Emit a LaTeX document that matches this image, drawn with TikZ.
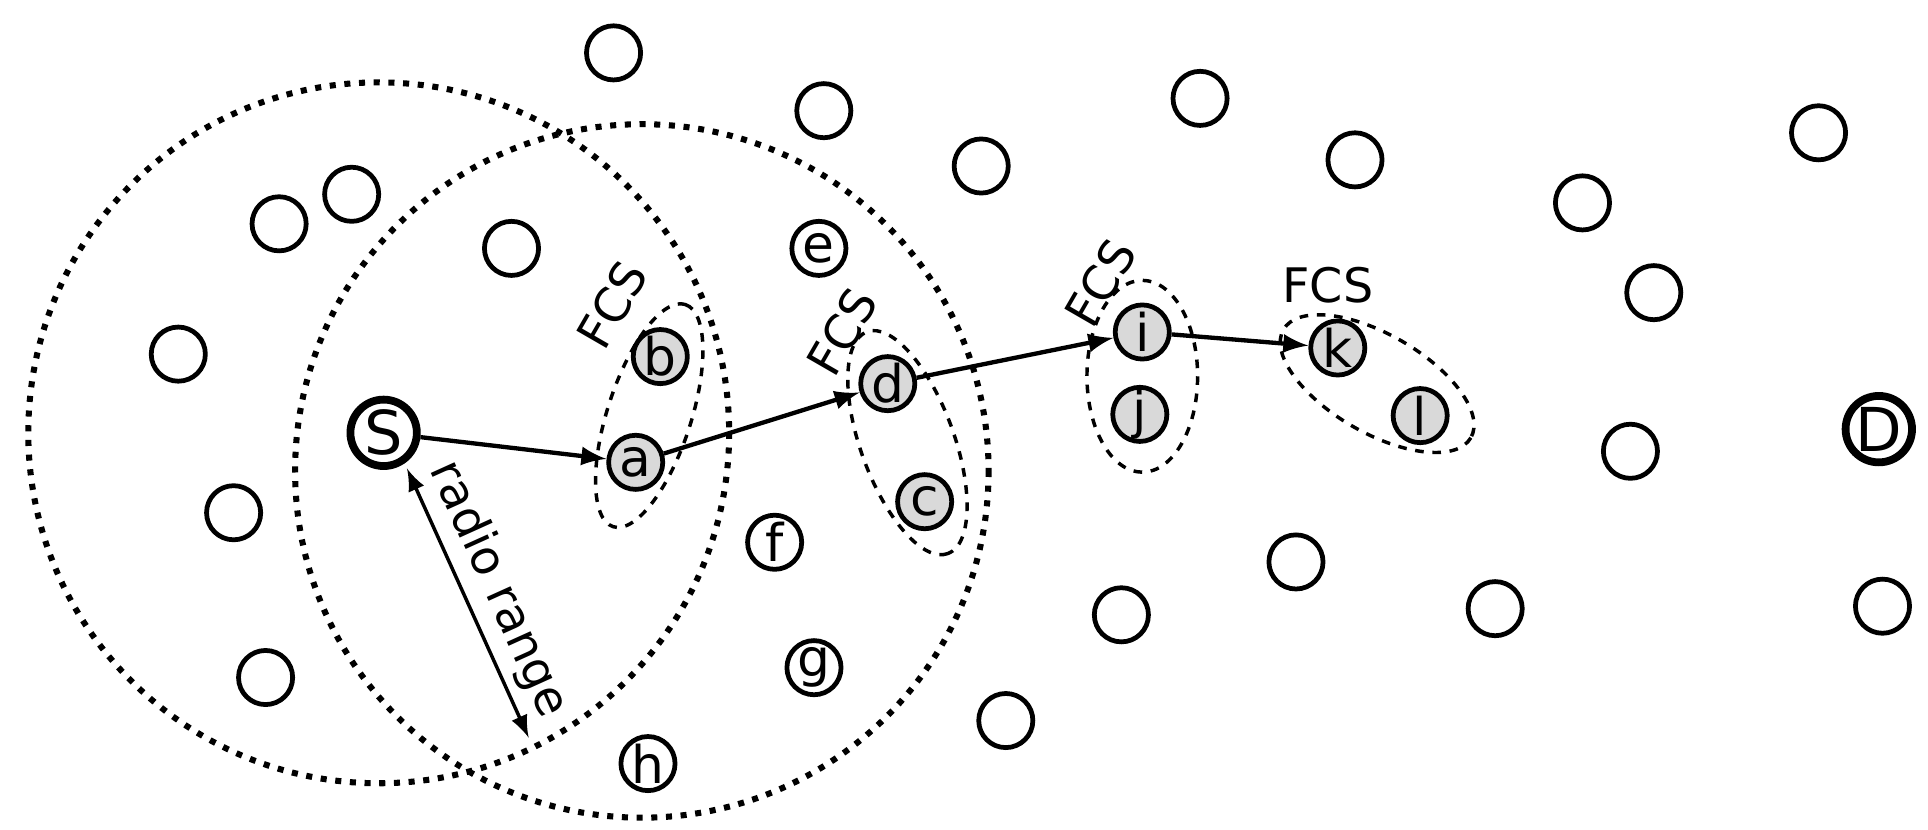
\documentclass[tikz,border=0pt]{standalone}
\usepackage{fontspec}
\setmainfont{DejaVu Sans}
\begin{document}
\begin{tikzpicture}[x=0.01cm,y=-0.01cm,
  nd/.style={circle,draw,line width=1.1pt,minimum size=0.44cm,inner sep=0pt,font=\fontsize{12}{14}\selectfont},
  gn/.style={nd,fill=black!15},
  bn/.style={nd,line width=1.8pt,minimum size=0.54cm,font=\fontsize{14}{16}\selectfont},
  rng/.style={draw,line width=1.4pt,dotted},
  fcs/.style={draw,line width=0.8pt,dashed,dash pattern=on 2pt off 2pt},
  arr/.style={-latex,line width=1pt},
  lbl/.style={font=\fontsize{11}{13}\selectfont}]
\useasboundingbox (0,0) rectangle (1568,675);
\draw[rng] (308,352) circle (285);
\draw[rng] (522,383) circle (282);
\draw[fcs] (528,338) ellipse[x radius=95,y radius=34,rotate=72];
\draw[fcs] (738,360) ellipse[x radius=96,y radius=38,rotate=-70];
\draw[fcs] (929,306) ellipse[x radius=45,y radius=78];
\draw[fcs] (1120,312) ellipse[x radius=88,y radius=40,rotate=-30];
\foreach \p [count=\i] in {(499,43),(670,90),(798,135),(976,80),(1102,130),(1287,165),(1479,108),(1345,238),(227,182),(286,158),(416,202),(145,288),(190,417),(216,551),(1326,367),(1054,457),(1216,495),(912,500),(818,586),(1531,493)}
  \node[nd] (o\i) at \p {};
\node[nd] (e) at (666,202) {e};
\node[nd] (f) at (630,441) {f};
\node[nd] (g) at (662,543) {g};
\node[nd] (h) at (527,621) {h};
\node[bn] (S) at (312,352) {S};
\node[bn] (D) at (1528,349) {D};
\node[gn] (a) at (517,376) {a};
\node[gn] (b) at (537,290) {b};
\node[gn] (d) at (722,312) {d};
\node[gn] (c) at (752,408) {c};
\node[gn] (i) at (929,270) {i};
\node[gn] (j) at (927,337) {j};
\node[gn] (k) at (1088,283) {k};
\node[gn] (l) at (1155,338) {l};
\draw[arr] (S) -- (a);
\draw[arr] (a) -- (d);
\draw[arr] (d) -- (i);
\draw[arr] (i) -- (k);
\coordinate (r1) at (331,381);
\coordinate (r2) at (430,600);
\draw[latex-latex,line width=0.8pt] (r1) -- node[lbl,sloped,above,inner sep=2pt] {radio range} (r2);
\node[lbl,rotate=60] (f1) at (498,248) {FCS};
\node[lbl,rotate=60] (f2) at (685,270) {FCS};
\node[lbl,rotate=60] (f3) at (895,230) {FCS};
\node[lbl] (f4) at (1080,232) {FCS};
\end{tikzpicture}
\end{document}
